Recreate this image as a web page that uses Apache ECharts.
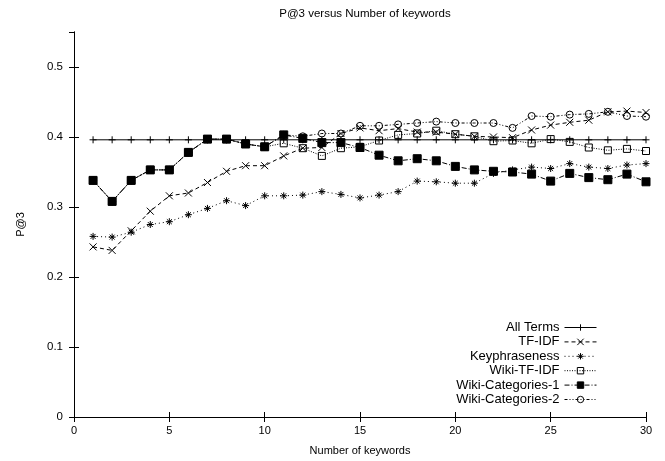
<!DOCTYPE html>
<html><head><meta charset="utf-8">
<script src="https://cdn.jsdelivr.net/npm/echarts@6/dist/echarts.min.js"></script>
<style>html,body{margin:0;padding:0;background:#fff}#c{width:665px;height:461px}</style>
</head><body><div id="c"></div>
<script>
const keywords = [1,2,3,4,5,6,7,8,9,10,11,12,13,14,15,16,17,18,19,20,21,22,23,24,25,26,27,28,29,30];
const allTerms = [0.396,0.396,0.396,0.396,0.396,0.396,0.396,0.396,0.396,0.396,0.396,0.396,0.396,0.396,0.396,0.396,0.396,0.396,0.396,0.396,0.396,0.396,0.396,0.396,0.396,0.396,0.396,0.396,0.396,0.396];
const tfidf = [0.243,0.238,0.266,0.294,0.316,0.320,0.335,0.351,0.359,0.359,0.373,0.384,0.385,0.405,0.413,0.409,0.412,0.407,0.407,0.404,0.401,0.400,0.399,0.410,0.417,0.421,0.424,0.436,0.437,0.435];
const keyphraseness = [0.258,0.257,0.264,0.275,0.279,0.289,0.298,0.309,0.302,0.316,0.316,0.317,0.322,0.318,0.313,0.317,0.322,0.337,0.336,0.334,0.334,0.348,0.353,0.357,0.355,0.362,0.357,0.355,0.360,0.362];
const wikiTfidf = [0.338,0.308,0.338,0.353,0.353,0.378,0.397,0.397,0.390,0.386,0.391,0.384,0.373,0.384,0.386,0.395,0.403,0.405,0.409,0.404,0.401,0.394,0.395,0.391,0.397,0.393,0.385,0.381,0.383,0.380];
const wikiCat1 = [0.338,0.308,0.338,0.353,0.353,0.378,0.397,0.397,0.390,0.386,0.403,0.398,0.392,0.392,0.385,0.374,0.366,0.369,0.366,0.358,0.353,0.351,0.350,0.347,0.337,0.348,0.342,0.339,0.347,0.336];
const wikiCat2 = [0.338,0.308,0.338,0.353,0.353,0.378,0.397,0.397,0.390,0.386,0.403,0.401,0.405,0.405,0.416,0.416,0.418,0.420,0.422,0.420,0.420,0.420,0.413,0.430,0.429,0.432,0.433,0.436,0.430,0.429];
const xTicks = [0,5,10,15,20,25,30];
const yTicks = [0,0.1,0.2,0.3,0.4,0.5];

const FONT = '"Liberation Sans", Arial, sans-serif';
const pair = a => keywords.map((k,i)=>[k,a[i]]);
const PLUS = 'path://M0,5L10,5M5,0L5,10';
const CROSS = 'path://M0,0L10,10M10,0L0,10';
const STAR = 'path://M0,5L10,5M5,0L5,10M1.5,1.5L8.5,8.5M8.5,1.5L1.5,8.5';

function mk(name, data, symbol, size, dash, fill){
  return {
    name, type:'line', data: pair(data), symbol, symbolSize:size,
    color:'#000',
    lineStyle:{color:'#000', width:1, type:dash},
    itemStyle:{color:fill, borderColor:'#000', borderWidth:1},
    emphasis:{disabled:true}, animation:false, z:2
  };
}

const chart = echarts.init(document.getElementById('c'), null, {renderer:'canvas'});
const axisCommon = {
  axisLine:{show:true, lineStyle:{color:'#000', width:1}},
  axisTick:{show:true, inside:true, length:5, lineStyle:{color:'#000'}},
  splitLine:{show:false},
};
chart.setOption({
  animation:false,
  backgroundColor:'#fff',
  title:{text:'P@3 versus Number of keywords', left:360, top:3, textAlign:'center',
    textStyle:{fontFamily:FONT, fontSize:11.5, fontWeight:'normal', color:'#000'}},
  grid:{left:74, right:19, top:32, bottom:41, show:false},
  legend:{
    orient:'vertical', right:63, top:316, align:'right',
    itemWidth:32, itemHeight:8, itemGap:1.4,
    lineStyle:{width:1},
    itemStyle:{borderWidth:1},
    textStyle:{fontFamily:FONT, fontSize:13, color:'#000', lineHeight:13},
    data:['All Terms','TF-IDF','Keyphraseness','Wiki-TF-IDF','Wiki-Categories-1','Wiki-Categories-2']
  },
  xAxis:[
    Object.assign({type:'value', min:xTicks[0], max:xTicks[xTicks.length-1], interval:5,
      name:'Number of keywords', nameLocation:'middle', nameGap:28,
      nameTextStyle:{fontFamily:FONT, fontSize:11, color:'#000'},
      axisLabel:{fontFamily:FONT, fontSize:11, color:'#000', margin:8}}, axisCommon),
    Object.assign({type:'value', position:'top', min:0, max:30, interval:5, axisLabel:{show:false}}, axisCommon)
  ],
  yAxis:[
    Object.assign({type:'value', min:0, max:0.55, interval:0.1,
      name:'P@3', nameLocation:'middle', nameGap:48, nameRotate:90,
      nameTextStyle:{fontFamily:FONT, fontSize:11, color:'#000'},
      axisLabel:{fontFamily:FONT, fontSize:11.5, color:'#000', margin:11, showMaxLabel:false,
        formatter:v=> yTicks.some(t=>Math.abs(t-v)<1e-9) ? String(+v.toFixed(1)) : ''}}, axisCommon),
    Object.assign({type:'value', position:'right', min:0, max:0.55, interval:0.1, axisLabel:{show:false}}, axisCommon)
  ],
  series:[
    mk('All Terms', allTerms, PLUS, 7, 'solid', '#000'),
    mk('TF-IDF', tfidf, CROSS, 7, [4,3], '#000'),
    mk('Keyphraseness', keyphraseness, STAR, 7, [1,3], '#000'),
    mk('Wiki-TF-IDF', wikiTfidf, 'rect', 7, [1,1.5], 'transparent'),
    mk('Wiki-Categories-1', wikiCat1, 'rect', 8, [5,2,1,2], '#000'),
    mk('Wiki-Categories-2', wikiCat2, 'circle', 7, [3,2,1,2,1,2], 'transparent')
  ]
});
</script></body></html>
